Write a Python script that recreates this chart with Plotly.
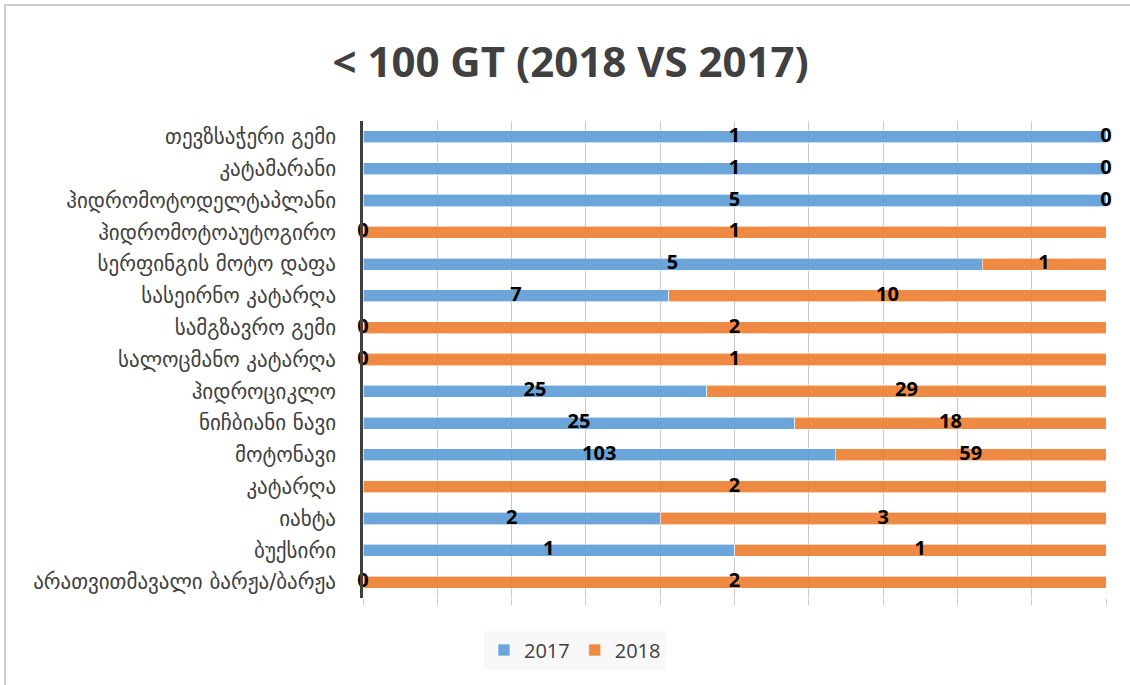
import plotly.graph_objects as go

categories = [
    "თევზსაჭერი გემი",
    "კატამარანი",
    "ჰიდრომოტოდელტაპლანი",
    "ჰიდრომოტოაუტოგირო",
    "სერფინგის მოტო დაფა",
    "სასეირნო კატარღა",
    "სამგზავრო გემი",
    "სალოცმანო კატარღა",
    "ჰიდროციკლო",
    "ნიჩბიანი ნავი",
    "მოტონავი",
    "კატარღა",
    "იახტა",
    "ბუქსირი",
    "არათვითმავალი ბარჟა/ბარჟა",
]
values_2017 = [1, 1, 5, 0, 5, 7, 0, 0, 25, 25, 103, None, 2, 1, 0]
values_2018 = [0, 0, 0, 1, 1, 10, 2, 1, 29, 18, 59, 2, 3, 1, 2]
series_names = ["2017", "2018"]

W, H = 1130, 685
L, R, T, B = 363, 1106, 121, 598


def px_x(p):
    return (p - L) / (R - L)


def px_y(p):
    return (B - p) / (B - T)


fig = go.Figure()
fig.add_trace(go.Bar(
    y=categories, x=[v if v is not None else 0 for v in values_2017],
    name=series_names[0], orientation="h",
    marker=dict(color="rgba(91,155,213,0.9)", line=dict(color="rgba(255,255,255,0.6)", width=1)),
    hoverinfo="skip",
))
fig.add_trace(go.Bar(
    y=categories, x=values_2018,
    name=series_names[1], orientation="h",
    marker=dict(color="rgba(237,125,49,0.9)", line=dict(color="rgba(255,255,255,0.6)", width=1)),
    hoverinfo="skip",
))

# label positions derived from the data (percent of row total)
lx17, ly17, lt17, lx18, ly18, lt18 = [], [], [], [], [], []
for c, a, b in zip(categories, values_2017, values_2018):
    a0 = a if a is not None else 0
    tot = a0 + b
    p17 = 100.0 * a0 / tot
    p18 = 100.0 * b / tot
    if a is not None:
        lx17.append(p17 / 2); ly17.append(c); lt17.append(str(a))
    lx18.append(p17 + p18 / 2); ly18.append(c); lt18.append(str(b))

lab_font = dict(family="Open Sans", size=20, color="black", weight="bold")
fig.add_trace(go.Scatter(x=lx17, y=ly17, text=lt17, mode="text", textfont=lab_font, cliponaxis=False,
                         textposition="middle center", showlegend=False, hoverinfo="skip"))
fig.add_trace(go.Scatter(x=lx18, y=ly18, text=lt18, mode="text", textfont=lab_font, cliponaxis=False,
                         textposition="middle center", showlegend=False, hoverinfo="skip"))

fig.update_layout(
    width=W, height=H,
    margin=dict(l=L, r=W - R, t=T, b=H - B, autoexpand=False),
    barmode="stack", barnorm="percent", bargap=0.62,
    paper_bgcolor="white", plot_bgcolor="white",
    title=dict(text="< 100 GT (2018 VS 2017)", x=0.505, xref="container", xanchor="center",
               y=1 - 62 / H, yref="container", yanchor="middle",
               font=dict(family="Open Sans", size=42, color="#404040", weight="bold")),
    legend=dict(orientation="h", x=px_x(575), y=px_y(650), xanchor="center", yanchor="middle",
                bgcolor="#f8f8f8", font=dict(family="Open Sans", size=20, color="#404040"),
                itemwidth=30, traceorder="normal"),
    showlegend=True,
)
fig.update_xaxes(range=[0, 100], dtick=10, showticklabels=False, showgrid=True,
                 gridcolor="#c9c9c9", gridwidth=1, zeroline=False,
                 ticks="outside", ticklen=6, tickcolor="#c9c9c9", showline=False, fixedrange=True)
fig.update_yaxes(range=[len(categories) - 0.5, -0.5], autorange=False,
                 showline=True, linecolor="#404040", linewidth=2.5,
                 ticks="", ticklabelstandoff=20,
                 tickfont=dict(family="DejaVu Sans", size=21, color="#404040"), fixedrange=True)

fig.add_shape(type="rect", xref="paper", yref="paper",
              x0=px_x(5), x1=px_x(1140), y0=px_y(695), y1=px_y(5),
              line=dict(color="#c0c0c0", width=1.5), fillcolor="rgba(0,0,0,0)", layer="below")

fig.write_html("out.html", config={"displayModeBar": False},
               post_script="document.body.style.margin='0';document.body.style.overflow='hidden';")
